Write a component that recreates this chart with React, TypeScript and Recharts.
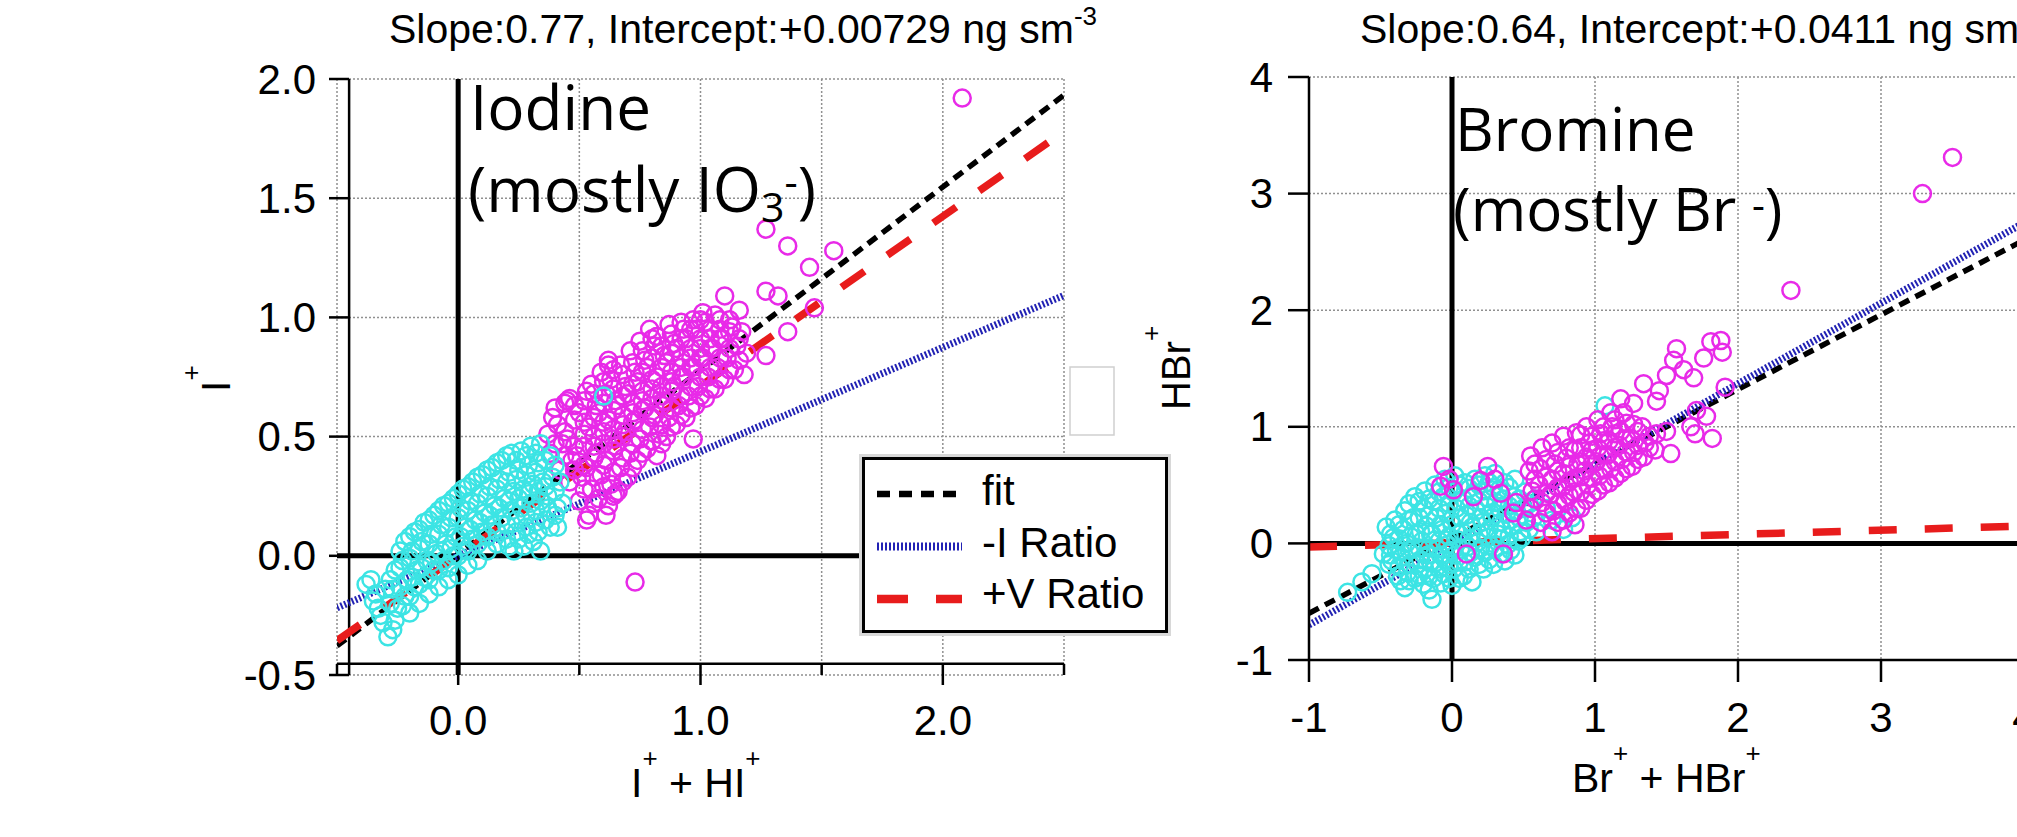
import React from "react";
import {
  ScatterChart,
  Scatter,
  XAxis,
  YAxis,
  CartesianGrid,
  ReferenceLine,
  Legend
} from "recharts";

type Pt = [number, number];

const FONT = "'Liberation Sans', Arial, sans-serif";
const NOTE_FONT = "'Open Sans', 'Noto Sans', sans-serif";
const CYAN = "#3ce4e4";
const MAGENTA = "#e82ae8";

// ---- left panel: I+ + HI+ vs I+ ----
const iodineXTicks = [-0.5, 0, 0.5, 1, 1.5, 2, 2.5];
const iodineYTicks = [-0.5, 0, 0.5, 1, 1.5, 2];

const iodineLow: Pt[] = [
  [-0.36, -0.1], [-0.35, -0.19], [-0.38, -0.12],
  [-0.31, -0.28], [-0.29, -0.34], [-0.33, -0.22], [-0.3, -0.14],
  [-0.26, -0.06], [-0.27, -0.14], [-0.25, -0.22], [-0.26, -0.27], [-0.24, 0.02],
  [-0.22, 0.06], [-0.23, -0.02], [-0.21, -0.1], [-0.22, -0.17], [-0.2, -0.24],
  [-0.18, 0.1], [-0.19, 0.02], [-0.17, -0.06], [-0.18, -0.13], [-0.16, -0.2],
  [-0.14, 0.14], [-0.15, 0.06], [-0.13, -0.02], [-0.14, -0.09], [-0.12, -0.16],
  [-0.1, 0.17], [-0.11, 0.09], [-0.09, 0.01], [-0.1, -0.06], [-0.08, -0.13],
  [-0.06, 0.21], [-0.07, 0.13], [-0.05, 0.05], [-0.06, -0.02], [-0.04, -0.1],
  [-0.02, 0.24], [-0.03, 0.16], [-0.01, 0.08], [-0.02, 0.0], [0.0, -0.08],
  [0.02, 0.28], [0.01, 0.2], [0.03, 0.12], [0.02, 0.04], [0.04, -0.04],
  [0.06, 0.31], [0.05, 0.23], [0.07, 0.15], [0.06, 0.07], [0.08, -0.02],
  [0.1, 0.34], [0.09, 0.26], [0.11, 0.18], [0.1, 0.1], [0.12, 0.02],
  [0.14, 0.37], [0.13, 0.29], [0.15, 0.21], [0.14, 0.13], [0.16, 0.05],
  [0.18, 0.4], [0.17, 0.32], [0.19, 0.24], [0.18, 0.16], [0.2, 0.07],
  [0.22, 0.43], [0.21, 0.35], [0.23, 0.27], [0.22, 0.19], [0.24, 0.1], [0.23, 0.02],
  [0.26, 0.44], [0.25, 0.36], [0.27, 0.28], [0.26, 0.2], [0.28, 0.12], [0.27, 0.04],
  [0.3, 0.46], [0.29, 0.38], [0.31, 0.3], [0.3, 0.22], [0.32, 0.14], [0.31, 0.06],
  [0.34, 0.47], [0.33, 0.39], [0.35, 0.31], [0.34, 0.23], [0.36, 0.15], [0.34, 0.02],
  [0.38, 0.42], [0.39, 0.33], [0.37, 0.25], [0.4, 0.17],
  [0.42, 0.31], [0.43, 0.22], [0.41, 0.12],
  [0.6, 0.67],
  [-0.34, -0.16], [-0.32, -0.25], [-0.28, -0.1], [-0.28, -0.2], [-0.27, -0.31],
  [-0.24, -0.05], [-0.24, -0.13], [-0.23, -0.21],
  [-0.2, 0.08], [-0.2, -0.01], [-0.19, -0.09], [-0.2, -0.17],
  [-0.16, 0.11], [-0.16, 0.03], [-0.15, -0.05], [-0.16, -0.12],
  [-0.12, 0.15], [-0.12, 0.05], [-0.11, -0.03], [-0.12, -0.1],
  [-0.08, 0.19], [-0.08, 0.09], [-0.07, 0.02], [-0.08, -0.06],
  [-0.04, 0.22], [-0.04, 0.12], [-0.03, 0.03], [-0.04, -0.05],
  [0.0, 0.26], [0.0, 0.16], [0.01, 0.08], [0.0, 0.0],
  [0.04, 0.29], [0.04, 0.19], [0.05, 0.11], [0.04, 0.02],
  [0.08, 0.33], [0.08, 0.22], [0.09, 0.14], [0.08, 0.05],
  [0.12, 0.36], [0.12, 0.25], [0.13, 0.17], [0.12, 0.08],
  [0.16, 0.39], [0.16, 0.28], [0.17, 0.2], [0.16, 0.1],
  [0.2, 0.42], [0.2, 0.31], [0.21, 0.23], [0.2, 0.13], [0.21, 0.04],
  [0.24, 0.4], [0.24, 0.32], [0.25, 0.24], [0.24, 0.15], [0.25, 0.07],
  [0.28, 0.42], [0.28, 0.34], [0.29, 0.26], [0.28, 0.17], [0.29, 0.09],
  [0.32, 0.43], [0.32, 0.35], [0.33, 0.27], [0.32, 0.19], [0.33, 0.1],
  [0.36, 0.4], [0.36, 0.29], [0.37, 0.2], [0.38, 0.12],
  [0.4, 0.38], [0.4, 0.27], [0.41, 0.2]
];

const iodineHigh: Pt[] = [
  [0.38, 0.43], [0.37, 0.51], [0.39, 0.58],
  [0.42, 0.36], [0.43, 0.47], [0.41, 0.55], [0.44, 0.64],
  [0.46, 0.31], [0.47, 0.4], [0.45, 0.49], [0.48, 0.57], [0.46, 0.66],
  [0.5, 0.23], [0.51, 0.33], [0.49, 0.42], [0.52, 0.51], [0.5, 0.6], [0.53, 0.69],
  [0.54, 0.17], [0.55, 0.28], [0.53, 0.37], [0.56, 0.46], [0.54, 0.54], [0.57, 0.63], [0.55, 0.72],
  [0.58, 0.24], [0.59, 0.34], [0.57, 0.43], [0.6, 0.52], [0.58, 0.6], [0.61, 0.68], [0.59, 0.77],
  [0.62, 0.21], [0.63, 0.3], [0.61, 0.4], [0.64, 0.49], [0.62, 0.57], [0.65, 0.65], [0.63, 0.74], [0.62, 0.82],
  [0.66, 0.27], [0.67, 0.37], [0.65, 0.46], [0.68, 0.55], [0.66, 0.63], [0.69, 0.71], [0.67, 0.8],
  [0.7, 0.33], [0.71, 0.43], [0.69, 0.52], [0.72, 0.6], [0.7, 0.68], [0.73, 0.77], [0.71, 0.86],
  [0.74, 0.4], [0.75, 0.49], [0.73, 0.57], [0.76, 0.65], [0.74, 0.73], [0.77, 0.82], [0.75, 0.9],
  [0.78, 0.45], [0.79, 0.54], [0.77, 0.62], [0.8, 0.7], [0.78, 0.79], [0.81, 0.88], [0.79, 0.95],
  [0.82, 0.42], [0.83, 0.51], [0.81, 0.59], [0.84, 0.67], [0.82, 0.75], [0.85, 0.84], [0.82, 0.92],
  [0.86, 0.5], [0.87, 0.58], [0.85, 0.65], [0.88, 0.73], [0.86, 0.81], [0.89, 0.89], [0.87, 0.97],
  [0.9, 0.55], [0.91, 0.63], [0.89, 0.71], [0.92, 0.79], [0.9, 0.87], [0.93, 0.95],
  [0.94, 0.58], [0.95, 0.67], [0.93, 0.75], [0.96, 0.83], [0.94, 0.91], [0.97, 0.99],
  [0.98, 0.63], [0.99, 0.71], [0.97, 0.79], [1.0, 0.87], [0.98, 0.95], [1.01, 1.02],
  [1.02, 0.66], [1.03, 0.75], [1.01, 0.83], [1.04, 0.91], [1.02, 0.98],
  [1.06, 0.7], [1.07, 0.79], [1.05, 0.87], [1.08, 0.95], [1.06, 1.01],
  [1.1, 0.74], [1.11, 0.83], [1.09, 0.91], [1.12, 0.99],
  [1.14, 0.78], [1.15, 0.88], [1.13, 0.96],
  [1.18, 0.76], [1.19, 0.85], [1.17, 0.94],
  [1.1, 1.09], [1.27, 1.37], [1.36, 1.3], [1.55, 1.28], [1.45, 1.21], [1.47, 1.04],
  [1.27, 1.11], [1.32, 1.09], [1.36, 0.94], [1.27, 0.84], [1.16, 1.03], [0.97, 0.49],
  [0.73, -0.11], [0.61, 0.17], [0.53, 0.15], [0.65, 0.26], [2.08, 1.92], [0.45, 0.65],
  [0.82, 0.92], [0.62, 0.8],
  [0.4, 0.47], [0.4, 0.62], [0.44, 0.42], [0.44, 0.52], [0.48, 0.36], [0.48, 0.46], [0.48, 0.63],
  [0.52, 0.28], [0.52, 0.38], [0.52, 0.46], [0.52, 0.56], [0.52, 0.65],
  [0.56, 0.22], [0.56, 0.33], [0.56, 0.41], [0.56, 0.5], [0.56, 0.58], [0.56, 0.68],
  [0.6, 0.29], [0.6, 0.38], [0.6, 0.47], [0.6, 0.56], [0.6, 0.64], [0.6, 0.73],
  [0.64, 0.25], [0.64, 0.35], [0.64, 0.44], [0.64, 0.53], [0.64, 0.61], [0.64, 0.7], [0.64, 0.78],
  [0.68, 0.31], [0.68, 0.41], [0.68, 0.5], [0.68, 0.59], [0.68, 0.67], [0.68, 0.76],
  [0.72, 0.37], [0.72, 0.47], [0.72, 0.56], [0.72, 0.64], [0.72, 0.72], [0.72, 0.81],
  [0.76, 0.43], [0.76, 0.53], [0.76, 0.61], [0.76, 0.69], [0.76, 0.77], [0.76, 0.86],
  [0.8, 0.48], [0.8, 0.58], [0.8, 0.66], [0.8, 0.74], [0.8, 0.83], [0.8, 0.91],
  [0.84, 0.47], [0.84, 0.55], [0.84, 0.63], [0.84, 0.71], [0.84, 0.79], [0.84, 0.88],
  [0.88, 0.54], [0.88, 0.62], [0.88, 0.69], [0.88, 0.77], [0.88, 0.85], [0.88, 0.93],
  [0.92, 0.59], [0.92, 0.67], [0.92, 0.75], [0.92, 0.83], [0.92, 0.91], [0.92, 0.98],
  [0.96, 0.62], [0.96, 0.71], [0.96, 0.79], [0.96, 0.87], [0.96, 0.95],
  [1.0, 0.67], [1.0, 0.75], [1.0, 0.83], [1.0, 0.91], [1.0, 0.99],
  [1.04, 0.7], [1.04, 0.79], [1.04, 0.87], [1.04, 0.95],
  [1.08, 0.74], [1.08, 0.83], [1.08, 0.91], [1.08, 0.99],
  [1.12, 0.78], [1.12, 0.87], [1.12, 0.94],
  [1.16, 0.82], [1.16, 0.91]
];

const iodineLines = [
  { name: "fit", slope: 0.77, intercept: 0.00729 },
  { name: "-I Ratio", slope: 0.437, intercept: 0 },
  { name: "+V Ratio", slope: 0.712, intercept: 0 }
];

// ---- right panel: Br+ + HBr+ vs HBr+ ----
const bromineXTicks = [-1, 0, 1, 2, 3, 4, 5];
const bromineYTicks = [-1, 0, 1, 2, 3, 4];

const bromineLow: Pt[] = [
  [-0.73, -0.42], [-0.63, -0.33], [-0.56, -0.26], [-0.48, -0.09], [-0.46, 0.14],
  [-0.44, -0.18], [-0.4, 0.2], [-0.41, 0.05], [-0.39, -0.05], [-0.42, -0.15], [-0.38, -0.28],
  [-0.33, 0.28], [-0.34, 0.12], [-0.32, 0.0], [-0.35, -0.12], [-0.31, -0.25], [-0.33, -0.38],
  [-0.26, 0.4], [-0.27, 0.22], [-0.25, 0.08], [-0.28, -0.05], [-0.24, -0.18], [-0.26, -0.3],
  [-0.19, 0.45], [-0.2, 0.3], [-0.18, 0.15], [-0.21, 0.02], [-0.17, -0.1], [-0.19, -0.22], [-0.2, -0.35],
  [-0.12, 0.5], [-0.13, 0.36], [-0.11, 0.22], [-0.14, 0.08], [-0.1, -0.05], [-0.12, -0.17], [-0.13, -0.3], [-0.14, -0.48],
  [-0.05, 0.55], [-0.06, 0.4], [-0.04, 0.26], [-0.07, 0.12], [-0.03, -0.01], [-0.05, -0.14], [-0.06, -0.26],
  [0.02, 0.58], [0.01, 0.44], [0.03, 0.3], [0.0, 0.16], [0.04, 0.03], [0.02, -0.1], [0.01, -0.22], [0.0, -0.36],
  [0.09, 0.52], [0.08, 0.38], [0.1, 0.24], [0.07, 0.1], [0.11, -0.03], [0.09, -0.16], [0.08, -0.28],
  [0.16, 0.55], [0.15, 0.42], [0.17, 0.28], [0.14, 0.14], [0.18, 0.01], [0.16, -0.12], [0.14, -0.33],
  [0.23, 0.58], [0.22, 0.45], [0.24, 0.32], [0.21, 0.18], [0.25, 0.05], [0.23, -0.08], [0.22, -0.22],
  [0.3, 0.6], [0.29, 0.48], [0.31, 0.35], [0.28, 0.22], [0.32, 0.08], [0.3, -0.05], [0.29, -0.18],
  [0.37, 0.52], [0.36, 0.38], [0.38, 0.25], [0.35, 0.12], [0.39, -0.01], [0.37, -0.15],
  [0.44, 0.55], [0.43, 0.4], [0.45, 0.28], [0.42, 0.15], [0.46, 0.02], [0.44, -0.1],
  [0.51, 0.44], [0.5, 0.3], [0.52, 0.18], [0.49, 0.05],
  [0.58, 0.38], [0.57, 0.22], [0.59, 0.1],
  [0.7, 0.2], [0.78, 0.12], [0.66, 0.3], [0.84, 0.22], [1.07, 1.18],
  [-0.43, 0.08], [-0.44, -0.02], [-0.43, -0.1], [-0.37, 0.16], [-0.37, 0.04], [-0.36, -0.07], [-0.37, -0.2], [-0.36, -0.32],
  [-0.3, 0.34], [-0.3, 0.2], [-0.29, 0.06], [-0.3, -0.06], [-0.29, -0.18], [-0.3, -0.32],
  [-0.23, 0.36], [-0.23, 0.22], [-0.22, 0.1], [-0.23, -0.04], [-0.22, -0.14], [-0.23, -0.27],
  [-0.16, 0.38], [-0.16, 0.24], [-0.15, 0.08], [-0.16, -0.04], [-0.15, -0.16], [-0.16, -0.28], [-0.16, -0.4],
  [-0.09, 0.44], [-0.09, 0.3], [-0.08, 0.16], [-0.09, 0.02], [-0.08, -0.1], [-0.09, -0.22], [-0.08, -0.34],
  [-0.02, 0.48], [-0.02, 0.34], [-0.01, 0.2], [-0.02, 0.06], [-0.01, -0.06], [-0.02, -0.18], [-0.02, -0.3],
  [0.05, 0.5], [0.05, 0.36], [0.06, 0.22], [0.05, 0.08], [0.06, -0.05], [0.05, -0.16], [0.05, -0.3],
  [0.12, 0.47], [0.12, 0.32], [0.13, 0.18], [0.12, 0.04], [0.13, -0.08], [0.12, -0.22],
  [0.19, 0.5], [0.19, 0.36], [0.2, 0.22], [0.19, 0.08], [0.2, -0.04], [0.19, -0.18],
  [0.26, 0.52], [0.26, 0.38], [0.27, 0.26], [0.26, 0.12], [0.27, -0.02], [0.26, -0.14],
  [0.33, 0.46], [0.33, 0.3], [0.34, 0.18], [0.33, 0.04], [0.34, -0.09],
  [0.4, 0.48], [0.4, 0.32], [0.41, 0.2], [0.4, 0.06], [0.41, -0.06],
  [0.47, 0.38], [0.47, 0.22], [0.48, 0.1],
  [0.54, 0.34], [0.54, 0.12]
];

const bromineHigh: Pt[] = [
  [0.55, 0.3], [0.56, 0.45], [0.54, 0.62], [0.55, 0.75],
  [0.62, 0.18], [0.63, 0.35], [0.61, 0.5], [0.62, 0.64], [0.63, 0.82],
  [0.7, 0.1], [0.71, 0.28], [0.69, 0.42], [0.7, 0.55], [0.72, 0.68], [0.7, 0.86],
  [0.78, 0.2], [0.79, 0.36], [0.77, 0.48], [0.78, 0.6], [0.8, 0.73], [0.78, 0.92],
  [0.86, 0.16], [0.87, 0.3], [0.85, 0.44], [0.86, 0.56], [0.88, 0.68], [0.86, 0.8], [0.87, 0.95],
  [0.94, 0.37], [0.95, 0.5], [0.93, 0.62], [0.94, 0.74], [0.96, 0.86], [0.94, 1.0],
  [1.02, 0.45], [1.03, 0.58], [1.01, 0.7], [1.02, 0.82], [1.04, 0.94], [1.02, 1.06],
  [1.1, 0.52], [1.11, 0.64], [1.09, 0.76], [1.1, 0.88], [1.12, 1.0], [1.11, 1.12],
  [1.18, 0.6], [1.19, 0.72], [1.17, 0.84], [1.18, 0.96], [1.2, 1.12], [1.18, 1.24],
  [1.26, 0.66], [1.27, 0.78], [1.25, 0.9], [1.27, 1.02], [1.27, 1.2],
  [1.34, 0.74], [1.35, 0.86], [1.33, 1.0], [1.34, 1.37],
  [1.42, 0.8], [1.43, 0.94], [1.43, 1.22], [1.45, 1.31],
  [1.5, 0.96], [1.53, 0.77], [1.5, 1.44], [1.55, 1.57], [1.57, 1.67], [1.62, 1.49],
  [1.67, 1.0], [1.7, 0.94], [1.71, 1.14], [1.78, 1.09], [1.82, 0.9], [1.69, 1.42],
  [1.76, 1.59], [1.81, 1.73], [1.88, 1.74], [1.89, 1.64], [1.91, 1.34],
  [-0.06, 0.66], [-0.08, 0.49], [0.01, 0.46], [0.2, 0.54], [0.25, 0.66], [0.34, 0.43],
  [0.43, 0.26], [0.52, 0.2], [0.1, -0.09], [0.36, -0.09], [0.15, 0.4], [-0.02, 0.55],
  [0.3, 0.55], [0.45, 0.35],
  [2.37, 2.17], [3.29, 3.0], [3.5, 3.31],
  [0.58, 0.38], [0.58, 0.55], [0.58, 0.68], [0.66, 0.26], [0.66, 0.43], [0.66, 0.57], [0.66, 0.72],
  [0.74, 0.18], [0.74, 0.34], [0.74, 0.48], [0.74, 0.62], [0.74, 0.78],
  [0.82, 0.26], [0.82, 0.41], [0.82, 0.53], [0.82, 0.66], [0.82, 0.82],
  [0.9, 0.3], [0.9, 0.44], [0.9, 0.57], [0.9, 0.7], [0.9, 0.82], [0.9, 0.93],
  [0.98, 0.42], [0.98, 0.56], [0.98, 0.68], [0.98, 0.8], [0.98, 0.92],
  [1.06, 0.5], [1.06, 0.63], [1.06, 0.76], [1.06, 0.88], [1.06, 1.0],
  [1.14, 0.56], [1.14, 0.7], [1.14, 0.82], [1.14, 0.94], [1.14, 1.06],
  [1.22, 0.64], [1.22, 0.78], [1.22, 0.9], [1.22, 1.03],
  [1.3, 0.72], [1.3, 0.84], [1.3, 0.96], [1.38, 0.82], [1.38, 0.92]
];

const bromineLines = [
  { name: "fit", slope: 0.64, intercept: 0.0411 },
  { name: "-I Ratio", slope: 0.69, intercept: -0.01 },
  { name: "+V Ratio", slope: 0.036, intercept: 0.005 }
];

const lineStyle: Record<string, { stroke: string; strokeWidth: number; strokeDasharray: string; legendDash: string }> = {
  fit: { stroke: "#000", strokeWidth: 5.5, strokeDasharray: "11 7", legendDash: "13 9" },
  "-I Ratio": { stroke: "#2222b4", strokeWidth: 7, strokeDasharray: "2 2", legendDash: "2 2" },
  "+V Ratio": { stroke: "#e81c1c", strokeWidth: 7.5, strokeDasharray: "28 28", legendDash: "31 28" }
};

const toPts = (a: Pt[]) => a.map(([x, y]) => ({ x, y }));
const seg = (l: { slope: number; intercept: number }, x0: number, x1: number) => [
  { x: x0, y: l.intercept + l.slope * x0 },
  { x: x1, y: l.intercept + l.slope * x1 }
];

const ring = (color: string) => (p: any) =>
  <circle cx={p.cx} cy={p.cy} r={8.5} fill="none" stroke={color} strokeWidth={2.5} />;

const tickText = { fontSize: 42, fontFamily: FONT, fill: "#000" };

const IodineXTick = (p: any) => {
  const v = p.payload.value;
  const major = Number.isInteger(v);
  return (
    <g>
      <line x1={p.x} x2={p.x} y1={p.y - 11} y2={p.y + (major ? 10 : 0)} stroke="#000" strokeWidth={2.5} />
      {major && (
        <text x={p.x} y={p.y + 45} textAnchor="middle" dominantBaseline="central" {...tickText}>
          {v.toFixed(1)}
        </text>
      )}
    </g>
  );
};

const IodineYTick = (p: any) => (
  <g>
    <line x1={p.x - 8} x2={p.x + 12} y1={p.y} y2={p.y} stroke="#000" strokeWidth={2.5} />
    <text x={p.x - 21} y={p.y} textAnchor="end" dominantBaseline="central" {...tickText}>
      {p.payload.value.toFixed(1)}
    </text>
  </g>
);

const BromineXTick = (p: any) => (
  <g>
    <line x1={p.x} x2={p.x} y1={p.y} y2={p.y + 22} stroke="#000" strokeWidth={2.5} />
    <text x={p.x} y={p.y + 57} textAnchor="middle" dominantBaseline="central" {...tickText}>
      {p.payload.value}
    </text>
  </g>
);

const BromineYTick = (p: any) => (
  <g>
    <line x1={p.x - 21} x2={p.x} y1={p.y} y2={p.y} stroke="#000" strokeWidth={2.5} />
    <text x={p.x - 36} y={p.y} textAnchor="end" dominantBaseline="central" {...tickText}>
      {p.payload.value}
    </text>
  </g>
);

const LineLegend = ({ lines }: { lines: typeof iodineLines }) => (
  <div style={{ width: 306, height: 176, background: "#fff", boxShadow: "0 0 0 3px #d8d8d8" }}>
    <svg width={306} height={176} style={{ display: "block" }}>
      <rect x={1.5} y={1.5} width={303} height={173} fill="#fff" stroke="#000" strokeWidth={3} />
      {lines.map((l, i) => {
        const s = lineStyle[l.name];
        return (
          <g key={l.name}>
            <line x1={15} x2={100} y1={37 + i * 52.5} y2={37 + i * 52.5} stroke={s.stroke}
              strokeWidth={s.strokeWidth + 1} strokeDasharray={s.legendDash} />
            <text x={120} y={48 + i * 51.5} fontSize={42} fontFamily={FONT} fill="#000">{l.name}</text>
          </g>
        );
      })}
    </svg>
  </div>
);

const gridStyle = { stroke: "#909090", strokeDasharray: "2 2", strokeWidth: 1.5 };

// axes get 1px of room: recharts skips drawing an axis of zero size
const IodinePanel = () => (
  <ScatterChart width={1180} height={837} margin={{ top: 79, right: 116, bottom: 161, left: 336 }}>
    <CartesianGrid {...gridStyle} />
    <XAxis type="number" dataKey="x" domain={[-0.5, 2.5]} ticks={iodineXTicks} interval={0}
      height={1} tickSize={0} tickMargin={0} axisLine={false} tick={IodineXTick} allowDataOverflow />
    <YAxis type="number" dataKey="y" domain={[-0.5, 2]} ticks={iodineYTicks} interval={0}
      width={1} tickSize={0} tickMargin={0} axisLine={false} tick={IodineYTick} allowDataOverflow />
    {/* offset axis lines, Igor style */}
    <ReferenceLine segment={[{ x: -0.45, y: -0.5 }, { x: -0.45, y: 2 }]} stroke="#000" strokeWidth={2.5} />
    <ReferenceLine segment={[{ x: -0.5, y: -0.453 }, { x: 2.5, y: -0.453 }]} stroke="#000" strokeWidth={2.5} />
    <ReferenceLine x={0} stroke="#000" strokeWidth={5} />
    <ReferenceLine y={0} stroke="#000" strokeWidth={5} />
    <Scatter data={toPts(iodineHigh)} shape={ring(MAGENTA)} isAnimationActive={false} />
    <Scatter data={toPts(iodineLow)} shape={ring(CYAN)} isAnimationActive={false} />
    {iodineLines.map((l) => (
      <ReferenceLine key={l.name} segment={seg(l, -0.5, 2.5)} ifOverflow="hidden" {...lineStyle[l.name]} />
    ))}
    <Legend layout="vertical" align="center" verticalAlign="middle"
      wrapperStyle={{ left: 862, top: 457, width: 306, height: 176 }}
      content={() => <LineLegend lines={iodineLines} />} />
  </ScatterChart>
);

const BrominePanel = () => (
  <ScatterChart width={1020} height={837} margin={{ top: 77, right: 33, bottom: 176, left: 128 }}>
    <CartesianGrid {...gridStyle} />
    <XAxis type="number" dataKey="x" domain={[-1, 5]} ticks={bromineXTicks} interval={0}
      height={1} tickSize={0} tickMargin={0} axisLine={{ stroke: "#000", strokeWidth: 2.5 }}
      tick={BromineXTick} allowDataOverflow />
    <YAxis type="number" dataKey="y" domain={[-1, 4]} ticks={bromineYTicks} interval={0}
      width={1} tickSize={0} tickMargin={0} axisLine={{ stroke: "#000", strokeWidth: 2.5 }}
      tick={BromineYTick} allowDataOverflow />
    <ReferenceLine x={0} stroke="#000" strokeWidth={5} />
    <ReferenceLine y={0} stroke="#000" strokeWidth={5} />
    <Scatter data={toPts(bromineLow)} shape={ring(CYAN)} isAnimationActive={false} />
    <Scatter data={toPts(bromineHigh)} shape={ring(MAGENTA)} isAnimationActive={false} />
    {bromineLines.map((l) => (
      <ReferenceLine key={l.name} segment={seg(l, -1, 5)} ifOverflow="hidden" {...lineStyle[l.name]} />
    ))}
  </ScatterChart>
);

const sup = { fontSize: 26 };

const Labels = () => (
  <svg width={2017} height={837} style={{ position: "absolute", left: 0, top: 0 }}>
    <g fontFamily={FONT} fontSize={41} fill="#000">
      <text x={389} y={43}>Slope:0.77, Intercept:+0.00729 ng sm<tspan dy={-18} {...sup}>-3</tspan></text>
      <text x={1360} y={43}>Slope:0.64, Intercept:+0.0411 ng sm<tspan dy={-18} {...sup}>-3</tspan></text>
      <text x={631} y={797}>I<tspan dy={-30} {...sup}>+</tspan><tspan dy={30}> + HI</tspan><tspan dy={-30} {...sup}>+</tspan></text>
      <text x={1572} y={792}>Br<tspan dy={-30} {...sup}>+</tspan><tspan dy={30}> + HBr</tspan><tspan dy={-30} {...sup}>+</tspan></text>
      <text transform="translate(230 392) rotate(-90)">I<tspan dy={-30} {...sup}>+</tspan></text>
      <text transform="translate(1190 410) rotate(-90)" fontSize={40}>HBr<tspan dy={-30} {...sup}>+</tspan></text>
    </g>
    <g fontFamily={NOTE_FONT} fill="#000">
      <text x={470} y={130} fontSize={62}>Iodine</text>
      <text x={468} y={212} fontSize={62}>(mostly IO<tspan dy={10} fontSize={41}>3</tspan><tspan dy={-26} fontSize={41}>-</tspan><tspan dy={16}>)</tspan></text>
      <text x={1455} y={151} fontSize={60}>Bromine</text>
      <text x={1453} y={231} fontSize={60}>(mostly Br <tspan dy={-12} fontSize={40}>-</tspan><tspan dy={12}>)</tspan></text>
    </g>
    <rect x={1070} y={367} width={44} height={68} fill="none" stroke="#cfcfcf" strokeWidth={1.5} />
  </svg>
);

export default function App() {
  return (
    <div style={{ position: "absolute", left: 0, top: 0, width: 2017, height: 837, overflow: "hidden", background: "#fff" }}>
      <div style={{ position: "absolute", left: 0, top: 0 }}>
        <IodinePanel />
      </div>
      <div style={{ position: "absolute", left: 1180, top: 0 }}>
        <BrominePanel />
      </div>
      <Labels />
    </div>
  );
}
